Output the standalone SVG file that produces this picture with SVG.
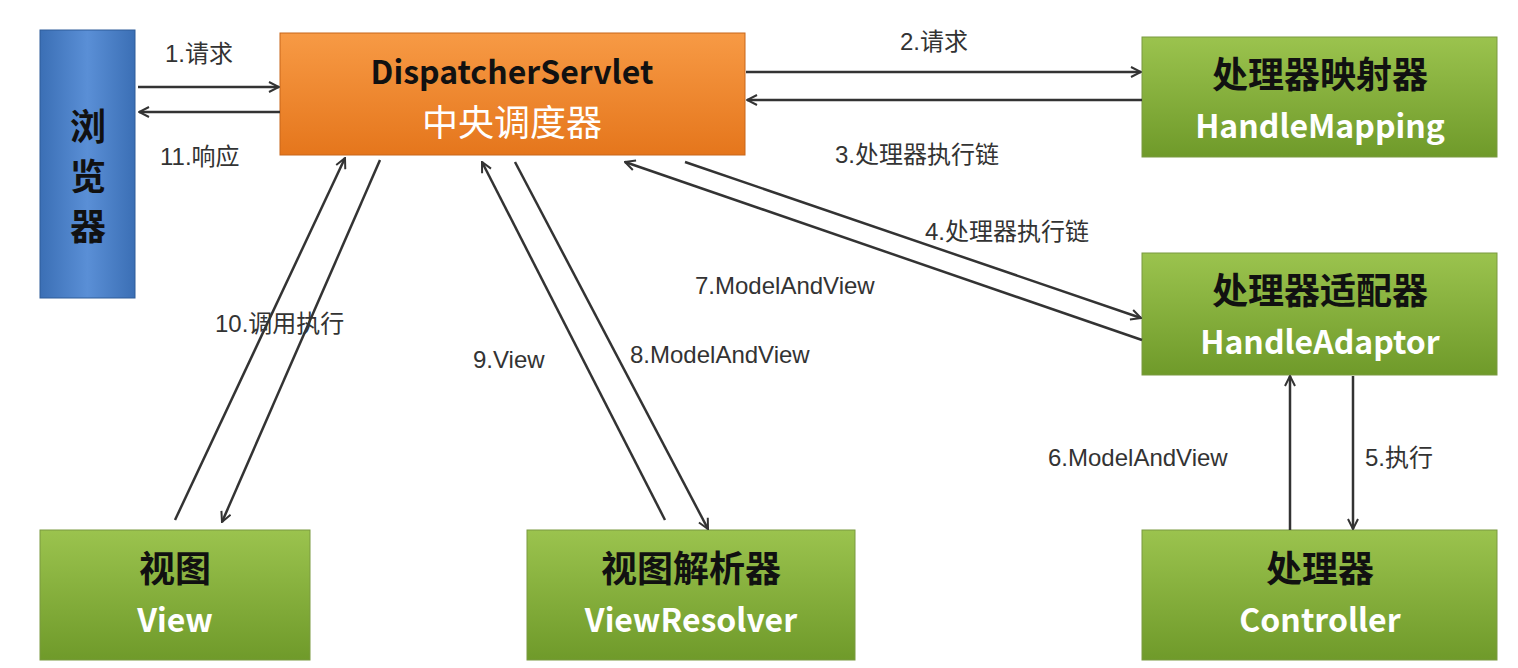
<svg xmlns="http://www.w3.org/2000/svg" width="1518" height="668" viewBox="0 0 1518 668">
<defs>
<linearGradient id="g" x1="0" y1="0" x2="0" y2="1"><stop offset="0" stop-color="#9bc34e"/><stop offset="1" stop-color="#6f9a2a"/></linearGradient>
<linearGradient id="o" x1="0" y1="0" x2="0" y2="1"><stop offset="0" stop-color="#f79a45"/><stop offset="1" stop-color="#e5761c"/></linearGradient>
<linearGradient id="b" x1="0" y1="0" x2="1" y2="0"><stop offset="0" stop-color="#3b6fb5"/><stop offset="0.5" stop-color="#5a8fd6"/><stop offset="1" stop-color="#3b6fb5"/></linearGradient>
<marker id="a" viewBox="0 0 12 12" refX="11" refY="6" markerWidth="12" markerHeight="12" markerUnits="userSpaceOnUse" orient="auto"><path d="M1,1 L11,6 L1,11" fill="none" stroke="#333" stroke-width="2"/></marker>
</defs>
<style>
.n{stroke:#7a9a40;stroke-width:1}
.t{font-family:"Noto Sans CJK SC","Liberation Sans",sans-serif;font-weight:bold;text-anchor:middle}
.k{fill:#111;font-size:36px}
.w{fill:#fff;font-size:32px}
.l{font-family:"Liberation Sans","Noto Sans CJK SC",sans-serif;font-size:24px;fill:#333}
#c line{stroke:#333;stroke-width:2.5;marker-end:url(#a)}
</style>
<rect width="1518" height="668" fill="#fff"/>
<g id="browser"><rect x="40" y="30" width="95" height="268" fill="url(#b)" stroke="#2f5c99"/><text class="t k" x="88" y="140">浏</text><text class="t k" x="88" y="190">览</text><text class="t k" x="88" y="240">器</text></g>
<g id="dispatcher"><rect x="280" y="33" width="465" height="122" fill="url(#o)" stroke="#c8661a"/><text class="t" x="512" y="84" font-size="32" fill="#111">DispatcherServlet</text><text class="t w" x="512" y="136" font-size="36" font-weight="normal" style="font-weight:normal;font-size:36px">中央调度器</text></g>
<g id="mapping"><rect class="n" x="1142" y="37" width="355" height="120" fill="url(#g)"/><text class="t k" x="1320" y="88">处理器映射器</text><text class="t w" x="1320" y="138">HandleMapping</text></g>
<g id="adaptor"><rect class="n" x="1142" y="253" width="355" height="122" fill="url(#g)"/><text class="t k" x="1320" y="304">处理器适配器</text><text class="t w" x="1320" y="354">HandleAdaptor</text></g>
<g id="controller"><rect class="n" x="1142" y="530" width="355" height="130" fill="url(#g)"/><text class="t k" x="1320" y="582">处理器</text><text class="t w" x="1320" y="632">Controller</text></g>
<g id="view"><rect class="n" x="40" y="530" width="270" height="130" fill="url(#g)"/><text class="t k" x="175" y="582">视图</text><text class="t w" x="175" y="632">View</text></g>
<g id="resolver"><rect class="n" x="527" y="530" width="328" height="130" fill="url(#g)"/><text class="t k" x="691" y="582">视图解析器</text><text class="t w" x="691" y="632">ViewResolver</text></g>
<g id="c">
<line x1="138" y1="87" x2="279" y2="87"/>
<line x1="280" y1="112" x2="139" y2="112"/>
<line x1="746" y1="72" x2="1141" y2="72"/>
<line x1="1142" y1="100" x2="747" y2="100"/>
<line x1="685" y1="162" x2="1141" y2="318"/>
<line x1="1142" y1="340" x2="625" y2="162"/>
<line x1="175" y1="520" x2="345" y2="158"/>
<line x1="380" y1="160" x2="222" y2="522"/>
<line x1="665" y1="520" x2="482" y2="162"/>
<line x1="515" y1="162" x2="708" y2="529"/>
<line x1="1290" y1="530" x2="1290" y2="376"/>
<line x1="1353" y1="376" x2="1353" y2="529"/>
</g>
<g id="labels">
<text class="l" x="165" y="62">1.请求</text>
<text class="l" x="160" y="165">11.响应</text>
<text class="l" x="900" y="50">2.请求</text>
<text class="l" x="835" y="163">3.处理器执行链</text>
<text class="l" x="925" y="240">4.处理器执行链</text>
<text class="l" x="695" y="294">7.ModelAndView</text>
<text class="l" x="215" y="332">10.调用执行</text>
<text class="l" x="473" y="368">9.View</text>
<text class="l" x="630" y="363">8.ModelAndView</text>
<text class="l" x="1048" y="466">6.ModelAndView</text>
<text class="l" x="1365" y="466">5.执行</text>
</g>
</svg>
